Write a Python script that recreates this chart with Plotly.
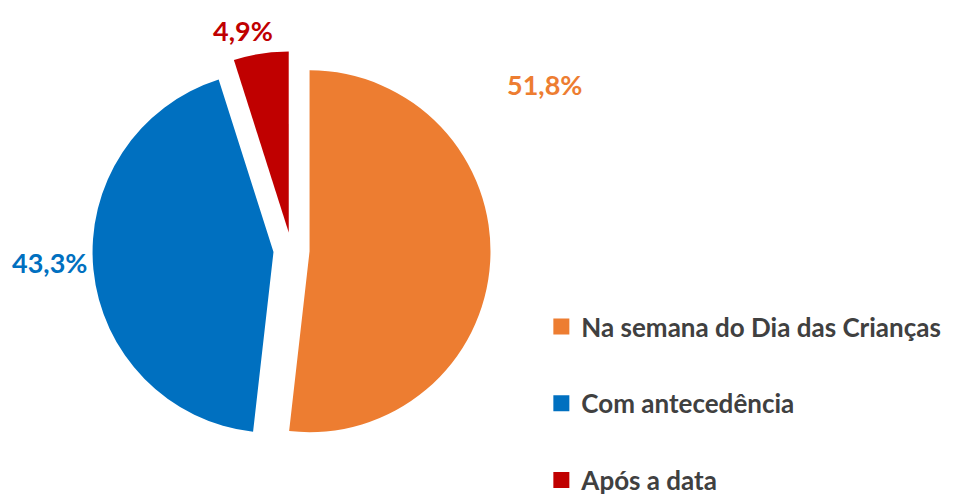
import plotly.graph_objects as go

categories = ["Na semana do Dia das Crianças", "Com antecedência", "Após a data"]
values = [51.8, 43.3, 4.9]
colors = ["#ED7D31", "#0070C0", "#C00000"]
pulls = [0.1, 0.1, 0.1]
label_pos = [(0.5585, 0.836), (0.0437, 0.452), (0.2445, 0.952)]

FONT = "Lato, 'Open Sans', sans-serif"

fig = go.Figure()
fig.add_trace(go.Pie(
    labels=categories, values=values, sort=False, direction="clockwise",
    rotation=0, pull=pulls, marker=dict(colors=colors, line=dict(width=0)),
    textinfo="none", showlegend=False,
    domain=dict(x=[0.074, 0.516], y=[0.051, 0.907]),
))

for c, col in zip(categories, colors):
    fig.add_trace(go.Scatter(
        x=[None], y=[None], mode="markers", name=f"<b>{c}</b>", legendgroup=c,
        marker=dict(symbol="square", size=16, color=col),
        showlegend=True,
    ))

for v, col, (px, py) in zip(values, colors, label_pos):
    fig.add_annotation(
        x=px, y=py, xref="paper", yref="paper", showarrow=False,
        xanchor="center", yanchor="middle",
        text=f"<b>{v:.1f}%</b>".replace(".", ","),
        font=dict(family=FONT, size=27, color=col),
    )

fig.update_layout(
    width=961, height=496, margin=dict(l=0, r=0, t=0, b=0),
    paper_bgcolor="white", plot_bgcolor="white",
    xaxis=dict(visible=False), yaxis=dict(visible=False),
    legend=dict(x=0.555, y=0.365, xanchor="left", yanchor="top",
                tracegroupgap=40,
                font=dict(family=FONT, size=26, color="#404040"),
                itemclick=False, itemdoubleclick=False),
    font=dict(family=FONT),
)

fig.write_html("out.html")
